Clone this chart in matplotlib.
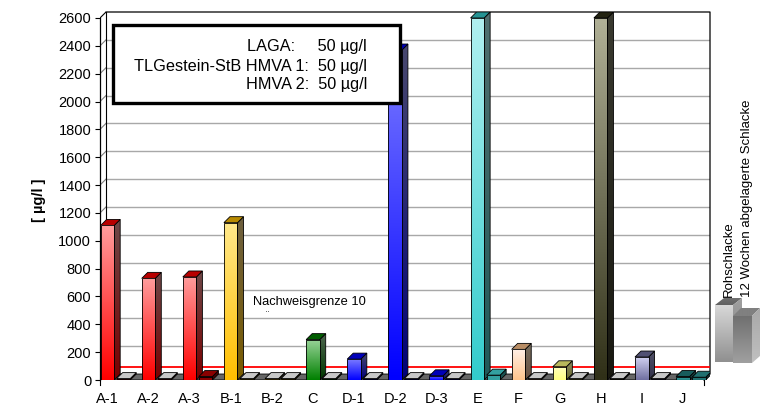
import numpy as np
import matplotlib
matplotlib.use("Agg")
import matplotlib.pyplot as plt
from matplotlib.patches import Polygon, Rectangle
from matplotlib.colors import to_rgb

plt.rcParams['font.family'] = ['Liberation Sans', 'DejaVu Sans']

categories = ['A-1', 'A-2', 'A-3', 'B-1', 'B-2', 'C', 'D-1', 'D-2', 'D-3',
              'E', 'F', 'G', 'H', 'I', 'J']
rohschlacke = [1110, 730, 740, 1130, 10, 290, 150, 2370, 30, 2600, 220, 95, 2600, 165, 25]
abgelagert = [10, 10, 25, 10, 10, 10, 10, 10, 10, 35, 10, 10, 10, 10, 20]
grenzwert = 50
y_ticks = list(range(0, 2601, 200))
series_names = ['Rohschlacke', '12 Wochen abgelagerte Schlacke']
limit_lines = ['LAGA:     50 µg/l', 'TLGestein-StB HMVA 1:  50 µg/l', 'HMVA 2:  50 µg/l']

# colours: front top, front bottom, side top, side bottom | second front, second side
group_of = ['A', 'A', 'A', 'B', 'B', 'C', 'D', 'D', 'D', 'E', 'F', 'G', 'H', 'I', 'J']
style = {
    'A': (('#ff9c9c', '#ff0000', '#6e4848', '#7a0000'), ('#8a0000', '#4a0000')),
    'B': (('#ffe88a', '#ffbf00', '#6e6040', '#7a5c00'), ('#a08000', '#5a4800')),
    'C': (('#9ad49a', '#008000', '#4e664e', '#003800'), ('#006400', '#003000')),
    'D': (('#7a7aff', '#0000ff', '#48486e', '#00007a'), ('#0000a0', '#000060')),
    'E': (('#b0f0f0', '#33cccc', '#507070', '#205a5a'), ('#33a0a0', '#1a5050')),
    'F': (('#fff0e6', '#ffc48c', '#787060', '#6a5040'), ('#a07050', '#604030')),
    'G': (('#ffffc0', '#ffff80', '#8c8c60', '#6a6a30'), ('#a0a040', '#606020')),
    'H': (('#b0b096', '#303018', '#3a3a30', '#181810'), ('#303018', '#181810')),
    'I': (('#d0d0f0', '#7070a0', '#505068', '#303048'), ('#404070', '#202040')),
    'J': (('#40b0b0', '#208080', '#205050', '#103838'), ('#207070', '#103838')),
}

W, H = 770, 411
fig = plt.figure(figsize=(W / 100, H / 100), dpi=100)
ax = fig.add_axes([100 / W, (H - 380) / H, (710 - 100) / W, (380 - 12) / H])

XL, XR = -0.18, 14.66
DX = 0.146          # depth offset in category units
DY = 43.0           # depth offset in value units
YTOP = 2600 + DY
front_right = XR - DX
back_left = XL + DX


def darker(c, f=0.7):
    r = np.array(to_rgb(c)) * f
    return tuple(r)


def grad(verts, c_top, c_bot, z):
    verts = np.asarray(verts, float)
    x0, x1 = verts[:, 0].min(), verts[:, 0].max()
    y0, y1 = verts[:, 1].min(), verts[:, 1].max()
    t = np.linspace(0, 1, 64)[:, None]
    a, b = np.array(to_rgb(c_top)), np.array(to_rgb(c_bot))
    img = (a * (1 - t) + b * t)[:, None, :]
    im = ax.imshow(img, extent=(x0, x1, y0, y1), origin='upper', aspect='auto',
                   interpolation='bilinear', zorder=z)
    poly = Polygon(verts, closed=True, facecolor='none', edgecolor='black',
                   linewidth=0.6, zorder=z + 0.01)
    ax.add_patch(poly)
    im.set_clip_path(poly)


def draw_bar(xc, w, h, front, side, topcol, z):
    x0, x1 = xc - w / 2, xc + w / 2
    grad([(x1, 0), (x1 + DX, DY), (x1 + DX, h + DY), (x1, h)], side[0], side[1], z)
    ax.add_patch(Polygon([(x0, h), (x0 + DX, h + DY), (x1 + DX, h + DY), (x1, h)],
                         closed=True, facecolor=topcol, edgecolor='black',
                         linewidth=0.6, zorder=z + 0.02))
    grad([(x0, 0), (x1, 0), (x1, h), (x0, h)], front[0], front[1], z + 0.03)


# floor
ax.add_patch(Polygon([(XL, 0), (front_right, 0), (XR, DY), (back_left, DY)], closed=True,
                     facecolor='#666666', edgecolor='black', linewidth=0.6, zorder=1))
# back wall grid
for v in y_ticks[1:-1]:
    ax.plot([back_left, XR], [v + DY, v + DY], color='#a8a8a8', lw=1.0, zorder=1)
    ax.plot([XL, back_left], [v, v + DY], color='#808080', lw=0.8, zorder=1)
ax.plot([XL, back_left], [2600, YTOP], color='black', lw=0.8, zorder=1)
ax.plot([back_left, back_left], [DY, YTOP], color='black', lw=0.8, zorder=1)
ax.plot([back_left, XR, XR, front_right], [YTOP, YTOP, DY, 0], color='black', lw=0.9,
        zorder=1, clip_on=False)
ax.plot([XL, front_right], [0, 0], color='black', lw=0.8, zorder=1)
# limit line on back wall
ax.plot([back_left, XR], [grenzwert + DY, grenzwert + DY], color='#ff0000', lw=1.3, zorder=2)

# bars
BW = 0.33
OFF = 0.39
for i, cat in enumerate(categories):
    fr, sc = style[group_of[i]]
    v1, v2 = rohschlacke[i], abgelagert[i]
    top1 = '#c8c8c8' if v1 <= 10 else darker(fr[1], 0.72)
    draw_bar(i, BW, v1, (fr[0], fr[1]), (fr[2], fr[3]), top1, 3 + i)
    top2 = '#c8c8c8' if v2 <= 10 else sc[0]
    draw_bar(i + OFF, BW, v2, (sc[0], sc[0]), (sc[1], sc[1]), top2, 3.5 + i)

# end ticks on category axis
for xe in (XL, front_right):
    ax.plot([xe, xe], [0, -36], color='black', lw=0.8, clip_on=False, zorder=30)

ax.set_xlim(XL, XR)
ax.set_ylim(0, YTOP)
for s in ['top', 'right', 'bottom']:
    ax.spines[s].set_visible(False)
ax.spines['left'].set_bounds(0, 2600)
ax.spines['left'].set_linewidth(0.9)
ax.spines['left'].set_zorder(40)
ax.set_yticks(y_ticks)
ax.set_yticklabels([str(v) for v in y_ticks])
ax.tick_params(axis='y', direction='out', length=3.8, width=0.8, pad=2.5, labelsize=10.5)
ax.set_xticks(range(len(categories)))
ax.set_xticklabels(categories)
ax.tick_params(axis='x', length=0, pad=8.5, labelsize=10.5)
ax.patch.set_visible(False)

# overlay in pixel coordinates for annotations / legend
ov = fig.add_axes([0, 0, 1, 1], zorder=10)
ov.set_xlim(0, W)
ov.set_ylim(H, 0)
ov.axis('off')
ov.patch.set_visible(False)

# limit value box
ov.add_patch(Rectangle((113, 25), 400 - 113, 103 - 25, facecolor='white', edgecolor='black',
                       linewidth=2.4, zorder=5))
for k, line in enumerate(limit_lines):
    ov.text(367, 47 + k * 19, line, ha='right', va='center', fontsize=11.7, zorder=6)

ov.text(253, 302, 'Nachweisgrenze 10', ha='left', va='center', fontsize=9.3)
ov.text(267, 316, '¨', ha='center', va='center', fontsize=7)

# y label
ov.text(39, 200, '[ µg/l ]', rotation=90, ha='center', va='center', fontsize=10.5,
        fontweight='bold')


def ov_grad(verts, c_top, c_bot, z):
    verts = np.asarray(verts, float)
    x0, x1 = verts[:, 0].min(), verts[:, 0].max()
    y0, y1 = verts[:, 1].min(), verts[:, 1].max()
    t = np.linspace(0, 1, 64)[:, None]
    a, b = np.array(to_rgb(c_top)), np.array(to_rgb(c_bot))
    img = (a * (1 - t) + b * t)[:, None, :]
    im = ov.imshow(img, extent=(x0, x1, y1, y0), origin='upper', aspect='auto',
                   interpolation='bilinear', zorder=z)
    poly = Polygon(verts, closed=True, facecolor='none', edgecolor='none', zorder=z)
    ov.add_patch(poly)
    im.set_clip_path(poly)


# legend boxes
ov_grad([(715, 305), (733, 305), (733, 362), (715, 362)], '#d8d8d8', '#909090', 3)
ov_grad([(715, 305), (724, 298), (742, 298), (733, 305)], '#707070', '#606060', 3)
ov_grad([(733, 305), (742, 298), (742, 356), (733, 362)], '#a0a0a0', '#808080', 3)
ov_grad([(733, 316), (752, 316), (752, 363), (733, 363)], '#707070', '#a0a0a0', 4)
ov_grad([(733, 316), (741, 308), (760, 308), (752, 316)], '#808080', '#808080', 4)
ov_grad([(752, 316), (760, 308), (760, 356), (752, 363)], '#a8a8a8', '#c0c0c0', 4)

ov.text(729, 297, series_names[0], rotation=90, rotation_mode='anchor', ha='left',
        va='center', fontsize=9.5)
ov.text(747, 297, series_names[1], rotation=90, rotation_mode='anchor', ha='left',
        va='center', fontsize=9.5)

ov.set_xlim(0, W)
ov.set_ylim(H, 0)

fig.savefig('out.png', dpi=100)
